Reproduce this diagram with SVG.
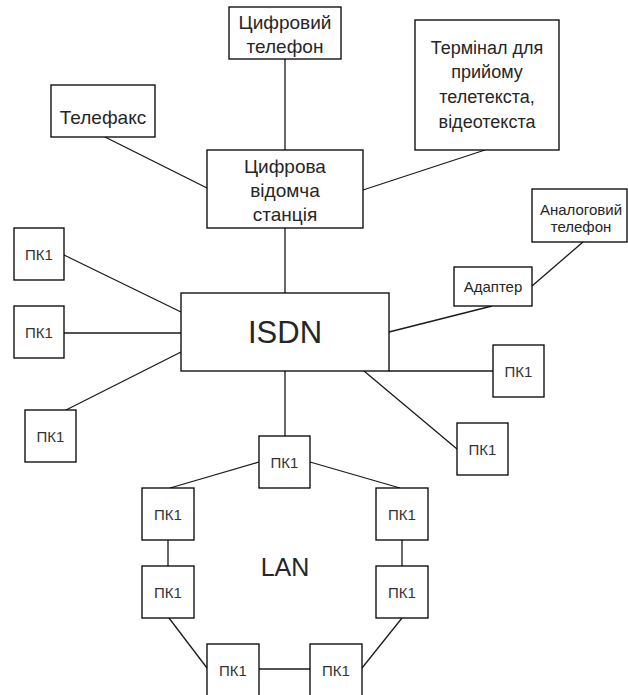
<svg xmlns="http://www.w3.org/2000/svg" width="628" height="695" viewBox="0 0 628 695">
  <style>
    .box { fill: #ffffff; stroke: #000000; stroke-width: 1.3; }
    .wire { fill: none; stroke: #1a1a1a; stroke-width: 1.3; }
    text { font-family: "Liberation Sans", Arial, sans-serif; fill: #262626; text-anchor: middle; }
    .lg { font-size: 19px; }
    .tm { font-size: 18px; }
    .md { font-size: 15px; }
    .pc { font-size: 15px; fill: #333333; }
    .big { font-size: 31px; }
    .lan { font-size: 25px; }
  </style>

  <rect width="628" height="695" fill="#ffffff"/>

  <!-- connectors -->
  <g id="connectors" class="wire">
    <line x1="285" y1="59" x2="285" y2="150"/>
    <line x1="105" y1="137" x2="207" y2="188"/>
    <line x1="485" y1="150" x2="363" y2="190"/>
    <line x1="285" y1="228" x2="285" y2="293"/>
    <line x1="583" y1="242" x2="532" y2="286"/>
    <line x1="492" y1="306" x2="389" y2="332"/>
    <line x1="64" y1="255" x2="181" y2="312"/>
    <line x1="64" y1="333" x2="181" y2="333"/>
    <line x1="66" y1="410" x2="181" y2="352"/>
    <line x1="389" y1="371" x2="493" y2="371"/>
    <line x1="364" y1="371" x2="457" y2="449"/>
    <line x1="285" y1="371" x2="285" y2="436"/>
    <line x1="259" y1="462" x2="170" y2="488"/>
    <line x1="310" y1="462" x2="400" y2="488"/>
    <line x1="168" y1="540" x2="168" y2="566"/>
    <line x1="402" y1="540" x2="402" y2="566"/>
    <line x1="169" y1="618" x2="207" y2="668"/>
    <line x1="402" y1="618" x2="362" y2="668"/>
    <line x1="259" y1="669" x2="310" y2="669"/>
  </g>

  <!-- upper devices -->
  <g id="digital-phone">
    <rect class="box" x="229" y="7" width="112" height="52"/>
    <text class="lg" x="285" y="29">Цифровий</text>
    <text class="lg" x="285" y="53">телефон</text>
  </g>
  <g id="telefax">
    <rect class="box" x="51" y="85" width="104" height="52"/>
    <text class="lg" x="103" y="124">Телефакс</text>
  </g>
  <g id="terminal">
    <rect class="box" x="415" y="20" width="144" height="130"/>
    <text class="tm" x="487" y="54">Термінал для</text>
    <text class="tm" x="487" y="78">прийому</text>
    <text class="tm" x="487" y="103">телетекста,</text>
    <text class="tm" x="487" y="128">відеотекста</text>
  </g>
  <g id="station">
    <rect class="box" x="207" y="150" width="156" height="78"/>
    <text class="lg" x="285" y="173">Цифрова</text>
    <text class="lg" x="285" y="197">відомча</text>
    <text class="lg" x="285" y="221">станція</text>
  </g>
  <g id="analog-phone">
    <rect class="box" x="532" y="189" width="95" height="53"/>
    <text class="md" x="581" y="215">Аналоговий</text>
    <text class="md" x="581" y="232">телефон</text>
  </g>
  <g id="adapter">
    <rect class="box" x="454" y="267" width="78" height="39"/>
    <text class="md" x="493" y="292">Адаптер</text>
  </g>

  <!-- network core -->
  <g id="isdn">
    <rect class="box" x="181" y="293" width="208" height="78"/>
    <text class="big" x="285" y="343">ISDN</text>
  </g>

  <!-- directly attached PCs -->
  <g id="pc-left-1">
    <rect class="box" x="14" y="228" width="50" height="52"/>
    <text class="pc" x="39" y="260">ПК1</text>
  </g>
  <g id="pc-left-2">
    <rect class="box" x="14" y="306" width="50" height="52"/>
    <text class="pc" x="39" y="338">ПК1</text>
  </g>
  <g id="pc-left-3">
    <rect class="box" x="25" y="410" width="51" height="52"/>
    <text class="pc" x="50.5" y="442">ПК1</text>
  </g>
  <g id="pc-right-1">
    <rect class="box" x="493" y="345" width="51" height="52"/>
    <text class="pc" x="518.5" y="377">ПК1</text>
  </g>
  <g id="pc-right-2">
    <rect class="box" x="457" y="423" width="51" height="52"/>
    <text class="pc" x="482.5" y="455">ПК1</text>
  </g>

  <!-- LAN ring -->
  <g id="lan-label">
    <text class="lan" x="285" y="576">LAN</text>
  </g>
  <g id="lan-pc-top">
    <rect class="box" x="259" y="436" width="51" height="52"/>
    <text class="pc" x="284.5" y="468">ПК1</text>
  </g>
  <g id="lan-pc-left-1">
    <rect class="box" x="142" y="488" width="52" height="52"/>
    <text class="pc" x="168" y="520">ПК1</text>
  </g>
  <g id="lan-pc-left-2">
    <rect class="box" x="142" y="566" width="52" height="52"/>
    <text class="pc" x="168" y="598">ПК1</text>
  </g>
  <g id="lan-pc-right-1">
    <rect class="box" x="376" y="488" width="52" height="52"/>
    <text class="pc" x="402" y="520">ПК1</text>
  </g>
  <g id="lan-pc-right-2">
    <rect class="box" x="376" y="566" width="52" height="52"/>
    <text class="pc" x="402" y="598">ПК1</text>
  </g>
  <g id="lan-pc-bottom-left">
    <rect class="box" x="207" y="644" width="52" height="54"/>
    <text class="pc" x="233" y="676">ПК1</text>
  </g>
  <g id="lan-pc-bottom-right">
    <rect class="box" x="310" y="644" width="52" height="54"/>
    <text class="pc" x="336" y="676">ПК1</text>
  </g>
</svg>
